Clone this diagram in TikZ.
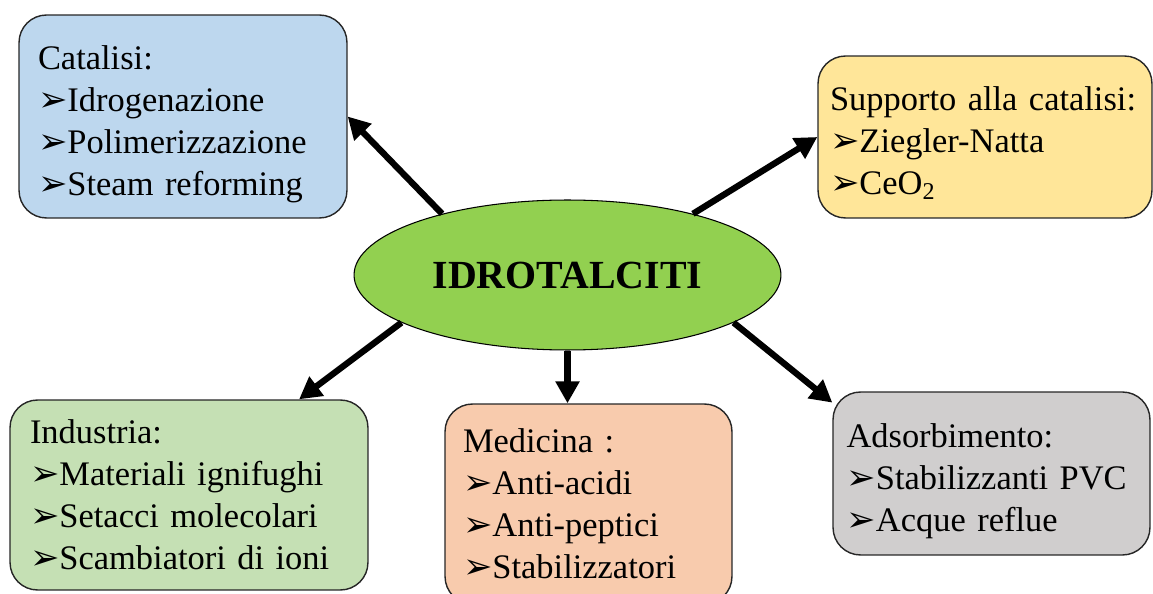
\documentclass[tikz,border=0pt]{standalone}
\usepackage{fontspec}
\setmainfont{Liberation Serif}
\newfontfamily\dingfont{DejaVu Sans}
\usetikzlibrary{shapes.geometric,arrows.meta}
\definecolor{idrblu}{RGB}{189,215,238}
\definecolor{idrgiallo}{RGB}{255,230,153}
\definecolor{idrverdino}{RGB}{197,224,180}
\definecolor{idrpesca}{RGB}{248,203,173}
\definecolor{idrgrigio}{RGB}{208,206,206}
\definecolor{idrverde}{RGB}{146,208,80}
\newcommand{\frc}{{\dingfont\fontsize{20}{20}\selectfont\symbol{"27A2}}}
\tikzset{
  ibox/.style={draw=black!85, line width=0.8pt, rounded corners=0.55cm, align=left, inner ysep=0pt, font=\fontsize{19.6}{23.9}\selectfont},
  giu/.style={execute at begin node={\rule{0pt}{#1}}},
  iell/.style={ellipse, draw, line width=0.6pt, fill=idrverde, minimum width=8.54cm, minimum height=3cm, inner sep=0pt, font=\bfseries\fontsize{22.7}{26}\selectfont},
  freccia/.style={line width=3.6pt, -{Triangle[length=0.44cm,width=0.46cm]}}
}
\begin{document}
\begin{tikzpicture}[x=0.02cm, y=-0.02cm]
    \clip (0,0) rectangle (1153,594);
    % centro
    \node[iell] (ell) at (567.5,275) {IDROTALCITI};
    % riquadri
    \node[ibox, giu=0.8cm, fill=idrblu, minimum width=6.56cm, minimum height=4.06cm, text width=5.8cm, inner xsep=0.38cm] (cat) at (183,116.5)
      {Catalisi:\\ \frc Idrogenazione\\ \frc Polimerizzazione\\ \frc Steam reforming};
    \node[ibox, giu=0.72cm, fill=idrgiallo, minimum width=6.68cm, minimum height=3.24cm, text width=6.2cm, inner xsep=0.24cm] (sup) at (985,137)
      {Supporto alla catalisi:\\ \frc Ziegler-Natta\\ \frc CeO\textsubscript{2}};
    \node[ibox, fill=idrverdino, minimum width=7.16cm, minimum height=3.8cm, text width=6.36cm, inner xsep=0.4cm] (ind) at (189,495)
      {Industria:\\ \frc Materiali ignifughi\\ \frc Setacci molecolari\\ \frc Scambiatori di ioni};
    \node[ibox, fill=idrpesca, minimum width=5.74cm, minimum height=4cm, text width=5.02cm, inner xsep=0.36cm] (med) at (588.5,504)
      {Medicina :\\ \frc Anti-acidi\\ \frc Anti-peptici\\ \frc Stabilizzatori};
    \node[ibox, giu=0.8cm, fill=idrgrigio, minimum width=6.34cm, minimum height=3.26cm, text width=5.8cm, inner xsep=0.27cm] (ads) at (991.5,473.5)
      {Adsorbimento:\\ \frc Stabilizzanti PVC\\ \frc Acque reflue};
    % frecce
    \draw[freccia] (ell.154) -- (cat.east);
    \draw[freccia] (ell.26) -- (sup.west);
    \draw[freccia] (ell.196) -- (ind.41);
    \draw[freccia] (ell.south) -- (ell.south |- med.north);
    \draw[freccia] (ell.-16) -- (ads.156);
\end{tikzpicture}
\end{document}
